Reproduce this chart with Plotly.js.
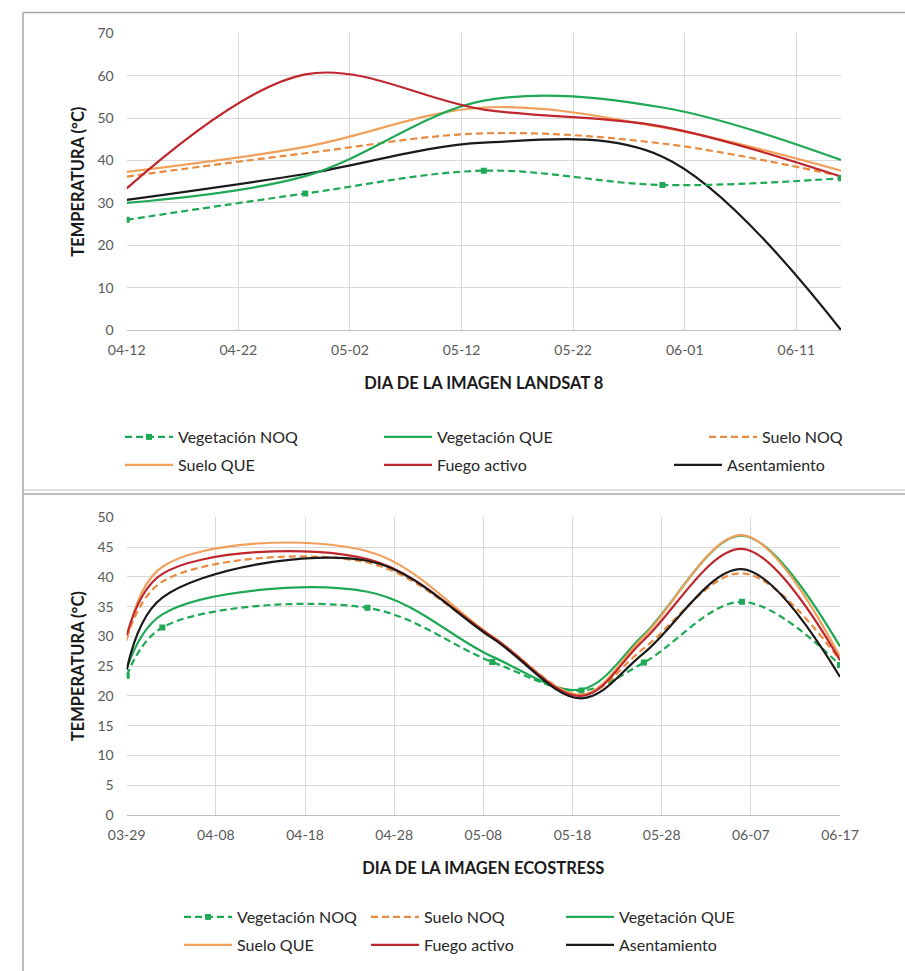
<!DOCTYPE html>
<html>
<head>
<meta charset="utf-8">
<script src="https://cdn.plot.ly/plotly-3.0.1.min.js"></script>
<style>html,body{margin:0;padding:0;background:#fff;}#chart{width:905px;height:971px;}</style>
</head>
<body>
<div id="chart"></div>
<script>
// ---------- DATA ----------
const year = '2021-';
// Landsat 8 (top chart)
const landsatDates = ['04-12', '04-28', '05-14', '05-30', '06-15'];
const vegNOQ_L   = [26.0, 32.2, 37.6, 34.2, 35.8];
const vegQUE_L   = [30.0, 36.3, 54.1, 52.5, 40.1];
const sueloNOQ_L = [36.2, 41.7, 46.4, 44.0, 36.3];
const sueloQUE_L = [37.3, 43.2, 52.5, 47.8, 37.6];
const fuego_L    = [33.4, 60.3, 52.0, 48.0, 36.2];
const asent_L    = [30.7, 36.8, 44.2, 40.9, 0.0];
// ECOSTRESS (bottom chart)
const ecoDates   = ['03-29', '04-02', '04-25', '05-09', '05-19', '05-26', '06-06', '06-17'];
const vegNOQ_E   = [23.4, 31.5, 34.8, 25.7, 20.9, 25.6, 35.8, 25.2];
const vegQUE_E   = [24.6, 33.7, 37.5, 26.6, 21.1, 30.3, 46.9, 28.3];
const sueloNOQ_E = [29.7, 39.2, 42.4, 29.9, 20.2, 28.0, 40.6, 26.0];
const sueloQUE_E = [29.3, 41.7, 44.3, 30.0, 20.2, 30.0, 47.0, 26.6];
const fuego_E    = [30.2, 40.5, 43.0, 29.9, 20.0, 29.4, 44.7, 26.0];
const asent_E    = [24.4, 36.5, 42.7, 29.7, 19.6, 27.2, 41.3, 23.2];
// labels
const seriesNames = ['Vegetación NOQ', 'Vegetación QUE', 'Suelo NOQ', 'Suelo QUE', 'Fuego activo', 'Asentamiento'];
const yTitle = 'TEMPERATURA (°C)';
const xTitleTop = 'DIA DE LA IMAGEN LANDSAT 8';
const xTitleBottom = 'DIA DE LA IMAGEN ECOSTRESS';

// ---------- STYLE ----------
const W = 905, H = 971;
const FONT = 'Lato, "Open Sans", sans-serif';
const C = {
  vegNOQ: '#1fa855', vegQUE: '#1fa855', sueloNOQ: '#ea8a3e', sueloQUE: '#f0a05a',
  fuego: '#c0262d', asent: '#1a1a1a'
};
const DASH = '7px,4px';
const px = x => x / W;
const py = y => 1 - y / H;

const landX = landsatDates.map(d => year + d);
const ecoX = ecoDates.map(d => year + d);

function tr(x, y, name, color, dash, xa, ya, legend, marker) {
  const t = {
    type: 'scatter', mode: marker ? 'lines+markers' : 'lines', x: x, y: y, name: name,
    xaxis: xa, yaxis: ya, legend: legend,
    line: {color: color, width: 2.2, dash: dash, shape: 'spline', smoothing: 1},
    hoverinfo: 'skip'
  };
  if (marker) t.marker = {symbol: 'square', size: 6, color: color};
  return t;
}

const data = [
  // top chart
  tr(landX, asent_L, seriesNames[5], C.asent, 'solid', 'x', 'y', 'legend6'),
  tr(landX, sueloNOQ_L, seriesNames[2], C.sueloNOQ, DASH, 'x', 'y', 'legend3'),
  tr(landX, sueloQUE_L, seriesNames[3], C.sueloQUE, 'solid', 'x', 'y', 'legend4'),
  tr(landX, vegQUE_L, seriesNames[1], C.vegQUE, 'solid', 'x', 'y', 'legend2'),
  tr(landX, fuego_L, seriesNames[4], C.fuego, 'solid', 'x', 'y', 'legend5'),
  tr(landX, vegNOQ_L, seriesNames[0], C.vegNOQ, DASH, 'x', 'y', 'legend', true),
  // bottom chart
  tr(ecoX, vegNOQ_E, seriesNames[0], C.vegNOQ, DASH, 'x2', 'y2', 'legend7', true),
  tr(ecoX, vegQUE_E, seriesNames[1], C.vegQUE, 'solid', 'x2', 'y2', 'legend9'),
  tr(ecoX, sueloNOQ_E, seriesNames[2], C.sueloNOQ, DASH, 'x2', 'y2', 'legend8'),
  tr(ecoX, sueloQUE_E, seriesNames[3], C.sueloQUE, 'solid', 'x2', 'y2', 'legend10'),
  tr(ecoX, fuego_E, seriesNames[4], C.fuego, 'solid', 'x2', 'y2', 'legend11'),
  tr(ecoX, asent_E, seriesNames[5], C.asent, 'solid', 'x2', 'y2', 'legend12')
];

const tickFont = {family: FONT, size: 14, color: '#595959'};
const titleFont = {family: FONT, size: 16.5, color: '#1a1a1a', weight: 'bold'};
const grid = '#d9d9d9';

function xaxis(domain, yanchor, r0, r1, t0, title) {
  return {
    domain: domain, anchor: yanchor, type: 'date', range: [year + r0, year + r1],
    tick0: year + t0, dtick: 10 * 86400000, tickformat: '%m-%d',
    showgrid: true, gridcolor: grid, gridwidth: 1, zeroline: false,
    showline: true, linecolor: '#bfbfbf', linewidth: 1, ticks: '',
    tickfont: tickFont, ticklabelstandoff: 7,
    title: {text: title, font: titleFont, standoff: 20}
  };
}
function yaxis(domain, xanchor, max, dt) {
  return {
    domain: domain, anchor: xanchor, range: [0, max], dtick: dt, tick0: 0,
    showgrid: true, gridcolor: grid, gridwidth: 1, zeroline: false,
    showline: false, ticks: '', tickfont: tickFont, ticklabelstandoff: 12,
    title: {text: yTitle, font: titleFont, standoff: 8}
  };
}

function leg(x, y) {
  return {x: px(x), y: py(y), xanchor: 'left', yanchor: 'middle', orientation: 'h',
    bgcolor: 'rgba(0,0,0,0)', borderwidth: 0, itemwidth: 48,
    font: {family: FONT, size: 16, color: '#262626'}, itemclick: false, itemdoubleclick: false};
}

const layout = {
  width: W, height: H, margin: {l: 0, r: 0, t: 0, b: 0},
  paper_bgcolor: '#fff', plot_bgcolor: '#fff', showlegend: true,
  xaxis: xaxis([px(126.7), px(841)], 'y', '04-12', '06-15', '04-12', xTitleTop),
  yaxis: yaxis([py(330), py(33.3)], 'x', 70, 10),
  xaxis2: xaxis([px(126.7), px(840)], 'y2', '03-29', '06-17', '03-29', xTitleBottom),
  yaxis2: yaxis([py(815), py(517.3)], 'x2', 50, 5),
  legend: leg(120, 437), legend2: leg(379, 437), legend3: leg(704, 437),
  legend4: leg(120, 465), legend5: leg(379, 465), legend6: leg(669, 465),
  legend7: leg(179, 917), legend8: leg(366, 917), legend9: leg(561, 917),
  legend10: leg(179, 945), legend11: leg(366, 945), legend12: leg(561, 945),
  shapes: [
    {type: 'line', xref: 'paper', yref: 'paper', x0: px(23), x1: 1, y0: py(12.5), y1: py(12.5), line: {color: '#a6a6a6', width: 1.5}},
    {type: 'line', xref: 'paper', yref: 'paper', x0: px(23), x1: px(23), y0: py(12.5), y1: 0, line: {color: '#a6a6a6', width: 1.5}},
    {type: 'line', xref: 'paper', yref: 'paper', x0: px(23), x1: 1, y0: py(490), y1: py(490), line: {color: '#bfbfbf', width: 1}},
    {type: 'line', xref: 'paper', yref: 'paper', x0: px(23), x1: 1, y0: py(494), y1: py(494), line: {color: '#a6a6a6', width: 1.5}}
  ]
};

Plotly.newPlot('chart', data, layout, {displayModeBar: false, staticPlot: true});
</script>
</body>
</html>
